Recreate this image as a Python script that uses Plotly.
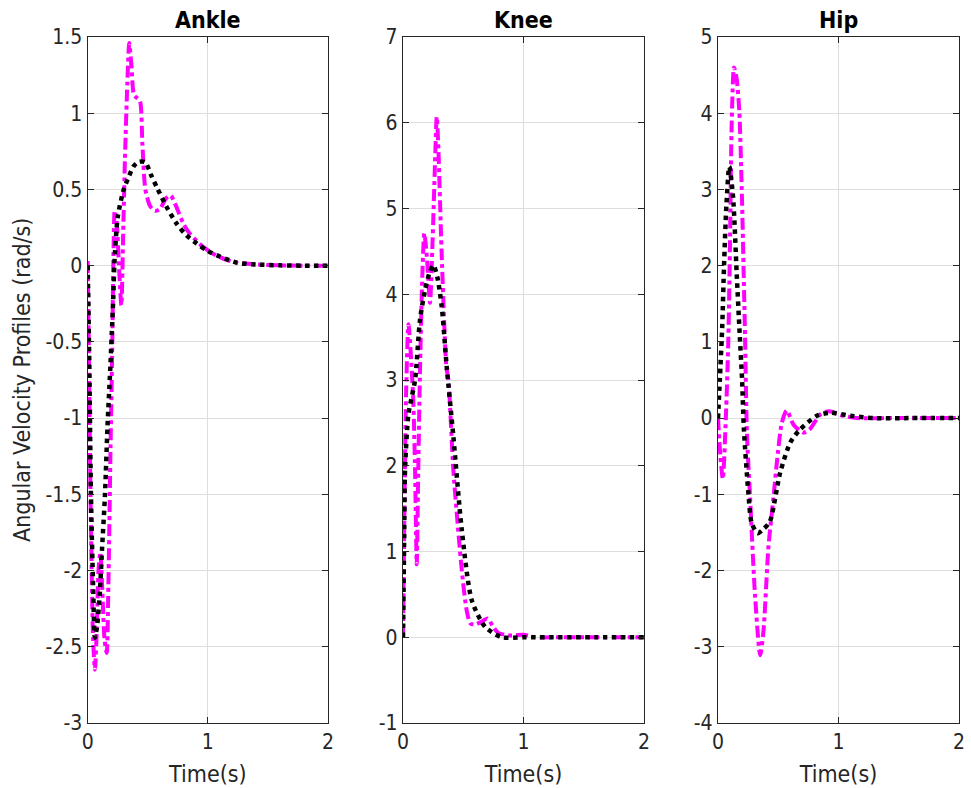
import plotly.graph_objects as go

# ---------------- data ----------------
ankle_t_ref = [0.0, 0.01, 0.02, 0.033, 0.045, 0.06, 0.075, 0.09, 0.105, 0.12, 0.14, 0.158, 0.172, 0.19, 0.205, 0.215, 0.225,
               0.24, 0.26, 0.28, 0.295, 0.31, 0.33, 0.346, 0.365, 0.385, 0.41, 0.435, 0.455, 0.48, 0.52, 0.56, 0.6, 0.65,
               0.69, 0.73, 0.8, 0.85, 0.95, 1.04, 1.15, 1.24, 1.4, 1.6, 1.8, 2.0]
ankle_ref = [0.03, -0.6, -1.3, -2.0, -2.45, -2.65, -2.4, -2.0, -1.88, -2.1, -2.45, -2.54, -2.1, -1.2, -0.5, 0.1, 0.36,
             0.3, 0.0, -0.26, 0.2, 0.7, 1.2, 1.46, 1.3, 1.12, 1.1, 1.08, 0.8, 0.5, 0.39, 0.36, 0.37, 0.44,
             0.46, 0.4, 0.27, 0.21, 0.13, 0.08, 0.04, 0.02, 0.008, 0.002, 0.0, 0.0]

ankle_t_act = [0.0, 0.013, 0.027, 0.045, 0.06, 0.08, 0.1, 0.12, 0.144, 0.165, 0.19, 0.2, 0.213, 0.222, 0.25, 0.3, 0.34,
               0.38, 0.42, 0.477, 0.53, 0.574, 0.657, 0.74, 0.82, 0.906, 0.99, 1.1, 1.24, 1.4, 1.6, 1.8, 2.0]
ankle_act = [0.0, -0.62, -1.5, -2.1, -2.44, -2.35, -2.16, -1.85, -1.5, -1.05, -0.64, -0.45, -0.21, 0.01, 0.32, 0.5, 0.58,
             0.65, 0.68, 0.68, 0.59, 0.516, 0.385, 0.276, 0.2, 0.146, 0.1, 0.06, 0.02, 0.008, 0.002, 0.0, 0.0]

knee_t_ref = [0.0, 0.012, 0.025, 0.045, 0.065, 0.086, 0.1, 0.114, 0.125, 0.14, 0.16, 0.177, 0.2, 0.224, 0.245, 0.265,
              0.28, 0.294, 0.32, 0.36, 0.377, 0.418, 0.488, 0.53, 0.56, 0.6, 0.65, 0.7, 0.75, 0.79, 0.9, 1.0, 1.1,
              1.3, 1.6, 2.0]
knee_ref = [0.0, 1.5, 2.8, 3.65, 3.3, 2.73, 1.95, 0.85, 1.8, 3.03, 4.2, 4.71, 4.4, 3.9, 4.6, 5.5,
            6.07, 5.68, 4.51, 3.15, 3.0, 1.95, 0.78, 0.3, 0.16, 0.15, 0.18, 0.22, 0.12, 0.05, 0.02, 0.03, 0.0,
            0.0, 0.0, 0.0]

knee_t_act = [0.0, 0.01, 0.017, 0.045, 0.1, 0.141, 0.183, 0.22, 0.252, 0.285, 0.322, 0.363, 0.418, 0.488, 0.571, 0.682,
              0.82, 1.0, 1.3, 1.6, 2.0]
knee_act = [0.0, 1.17, 1.95, 2.6, 3.0, 3.7, 4.05, 4.25, 4.34, 4.2, 3.85, 3.15, 2.34, 1.25, 0.43, 0.12,
            0.0, 0.0, 0.0, 0.0, 0.0]

hip_t_ref = [0.0, 0.02, 0.04, 0.065, 0.086, 0.1, 0.114, 0.133, 0.155, 0.177, 0.197, 0.224, 0.24, 0.266, 0.308, 0.35,
             0.377, 0.419, 0.46, 0.488, 0.53, 0.571, 0.628, 0.71, 0.76, 0.85, 0.92, 1.04, 1.15, 1.4, 1.7, 2.0]
hip_ref = [0.0, -0.5, -0.8, 0.0, 1.04, 2.35, 3.89, 4.6, 4.45, 4.02, 3.0, 1.1, -0.2, -1.03, -2.34, -3.11,
           -2.8, -1.68, -1.05, -0.59, -0.06, 0.1, -0.09, -0.19, -0.15, 0.05, 0.09, 0.03, 0.0, 0.0, 0.0, 0.0]

hip_t_act = [0.0, 0.015, 0.035, 0.05, 0.07, 0.094, 0.125, 0.155, 0.18, 0.2, 0.215, 0.25, 0.28, 0.33, 0.38, 0.43,
             0.515, 0.6, 0.68, 0.82, 0.93, 1.1, 1.3, 1.6, 2.0]
hip_act = [0.0, 0.5, 1.2, 2.0, 2.8, 3.3, 2.9, 1.9, 1.1, 0.5, -0.15, -0.94, -1.38, -1.51, -1.45, -1.36,
           -0.72, -0.32, -0.15, 0.03, 0.07, 0.03, 0.0, 0.0, 0.0]

titles = ["Ankle", "Knee", "Hip"]
y_tickvals = [[-3, -2.5, -2, -1.5, -1, -0.5, 0, 0.5, 1, 1.5],
              [-1, 0, 1, 2, 3, 4, 5, 6, 7],
              [-4, -3, -2, -1, 0, 1, 2, 3, 4, 5]]
y_ticktext = [["-3", "-2.5", "-2", "-1.5", "-1", "-0.5", "0", "0.5", "1", "1.5"],
              ["-1", "0", "1", "2", "3", "4", "5", "6", "7"],
              ["-4", "-3", "-2", "-1", "0", "1", "2", "3", "4", "5"]]
y_ranges = [[-3, 1.5], [-1, 7], [-4, 5]]
x_ticks = [0, 1, 2]
y_label = "Angular Velocity Profiles (rad/s)"
x_label = "Time(s)"

# ---------------- figure ----------------
W, H = 971, 788
FONT = "DejaVu Sans Condensed, Liberation Sans Narrow, Liberation Sans, Arial, sans-serif"
MAG = "#FF00FF"
TXT = "#262626"

fig = go.Figure()
series = [
    (ankle_t_ref, ankle_ref, ankle_t_act, ankle_act),
    (knee_t_ref, knee_ref, knee_t_act, knee_act),
    (hip_t_ref, hip_ref, hip_t_act, hip_act),
]
x_px = [(87.7, 328.0), (403.0, 644.0), (718.0, 959.0)]
y_top, y_bot = 37.0, 723.0

for i, (tr, r, ta, a) in enumerate(series):
    xa = "x" if i == 0 else f"x{i+1}"
    ya = "y" if i == 0 else f"y{i+1}"
    fig.add_trace(go.Scatter(x=tr, y=r, mode="lines", xaxis=xa, yaxis=ya,
                             line=dict(color=MAG, width=4, dash="dashdot", shape="spline", smoothing=0.7),
                             showlegend=False))
    fig.add_trace(go.Scatter(x=ta, y=a, mode="lines", xaxis=xa, yaxis=ya,
                             line=dict(color="black", width=4.5, dash="dot", shape="spline", smoothing=0.7),
                             showlegend=False))

layout = dict(width=W, height=H, margin=dict(l=0, r=0, t=0, b=0),
              paper_bgcolor="white", plot_bgcolor="white",
              font=dict(family=FONT, size=20, color=TXT))
axis_common = dict(showline=True, linecolor=TXT, linewidth=1.3, mirror="ticks",
                   ticks="inside", ticklen=6, tickcolor=TXT, tickwidth=1.2,
                   showgrid=True, gridcolor="#DEDEDE", gridwidth=1, zeroline=False,
                   tickfont=dict(family=FONT, size=21, color=TXT), automargin=False)
annotations = []
for i in range(3):
    sfx = "" if i == 0 else str(i + 1)
    x0, x1 = x_px[i]
    layout[f"xaxis{sfx}"] = dict(domain=[x0 / W, x1 / W], range=[0, 2], tickvals=x_ticks,
                                 ticktext=[str(v) for v in x_ticks], anchor=f"y{sfx}",
                                 title=dict(text=x_label, font=dict(family=FONT, size=23, color=TXT), standoff=12),
                                 **axis_common)
    layout[f"yaxis{sfx}"] = dict(domain=[1 - y_bot / H, 1 - y_top / H], range=y_ranges[i],
                                 tickvals=y_tickvals[i], ticktext=y_ticktext[i], anchor=f"x{sfx}", **axis_common)
    annotations.append(dict(text=f"<b>{titles[i]}</b>", x=(x0 + x1) / 2 / W, y=1 - 20 / H,
                            xref="paper", yref="paper", xanchor="center", yanchor="middle",
                            showarrow=False, font=dict(family=FONT, size=23, color="black")))
annotations.append(dict(text=y_label, x=22 / W, y=1 - (y_top + y_bot) / 2 / H, xref="paper", yref="paper",
                        xanchor="center", yanchor="middle", textangle=-90, showarrow=False,
                        font=dict(family=FONT, size=23, color=TXT)))
layout["annotations"] = annotations
fig.update_layout(**layout)

fig.write_html("out.html")
